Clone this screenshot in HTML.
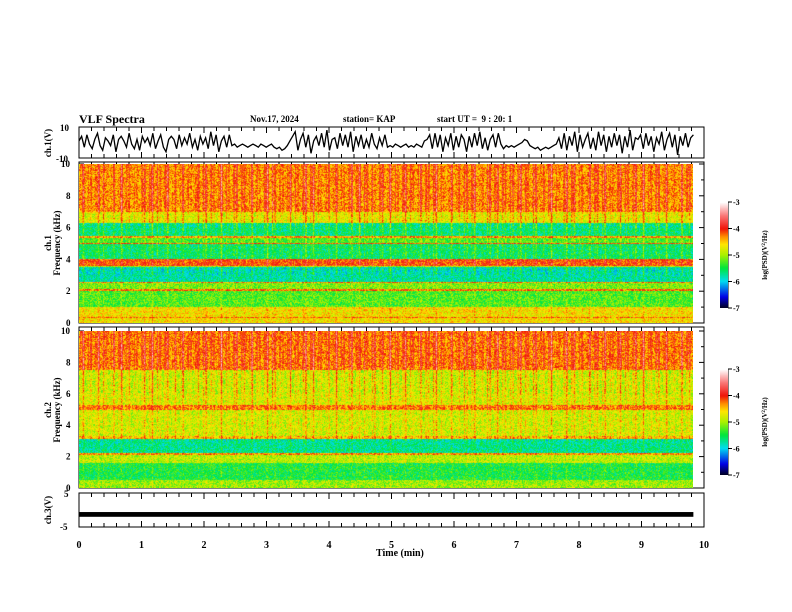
<!DOCTYPE html>
<html><head><meta charset="utf-8"><style>
html,body{margin:0;padding:0;background:#fff;}
#wrap{position:relative;width:792px;height:612px;overflow:hidden;font-family:"Liberation Serif",serif;}
.t{position:absolute;font-weight:bold;font-size:9px;color:#000;white-space:nowrap;}
canvas{position:absolute;}
</style></head><body>
<div id="wrap">
<div class="t" style="left:79px;top:112px;font-size:12px">VLF Spectra</div>
<div class="t" style="left:250px;top:114px">Nov.17, 2024</div>
<div class="t" style="left:343px;top:114px">station= KAP</div>
<div class="t" style="left:437px;top:114px">start UT =&nbsp;&nbsp;9 : 20: 1</div>
<div class="t" style="left:376px;top:548px;font-size:10px">Time (min)</div>
<svg id="svg" width="792" height="612" style="position:absolute;left:0;top:0"></svg>
<canvas id="c1" width="614" height="159" style="left:79px;top:164px"></canvas>
<canvas id="c2" width="614" height="157" style="left:79px;top:331px"></canvas>
<canvas id="cb1" width="8" height="106" style="left:720px;top:202px"></canvas>
<canvas id="cb2" width="8" height="106" style="left:720px;top:369px"></canvas>
</div>
<script>
// ---------- data ----------
const ch1Wave = [1,4,-3,5,-1,-4,2,6,-2,-5,3,1,-2,5,-6,2,4,1,-3,6,-1,-4,2,-5,4,0,3,-2,6,-4,1,5,-3,-6,2,4,2,-4,5,-2,3,-1,6,-3,2,-5,4,-1,3,-4,7,-2,5,-6,1,4,-3,5,-2,-1,-3,-2,-1,-2,-3,-2,-1,-2,-3,-1,-2,-3,-2,-1,-3,-4,-3,-5,-4,-2,1,4,7,-5,2,6,-3,5,-7,1,4,-2,6,-3,8,-5,2,3,-4,6,-2,5,-3,7,-6,4,-2,5,-4,2,-3,6,-1,-4,3,-2,5,-3,-2,-3,-1,-2,-3,-2,-1,-3,-2,-3,-1,-2,-3,1,2,5,-4,6,-3,5,-6,3,-2,6,-5,4,-3,5,2,-6,4,-3,6,-2,7,-4,3,-5,2,5,-3,6,-1,-4,-2,-3,-2,-3,-2,-1,0,2,1,-2,-3,-4,-3,-5,-4,-3,-4,-3,-2,-1,3,-4,6,-5,4,-2,7,-6,5,-3,2,6,-4,3,-5,7,-2,5,-6,4,-3,6,-2,5,-7,4,-3,8,-5,3,2,5,-4,6,-2,4,-6,3,-1,7,-5,2,6,-3,5,-8,4,-2,6,-3,3,5];
const ch3Min = -2.0, ch3Max = -0.6;
const tEnd = 9.83;
// band profiles: [fLow kHz, fHigh kHz, log PSD]
const spec1Bands = [[7,10,-4.15],[6.3,7,-4.6],[5.5,6.3,-5.55],[5.35,5.5,-4.3],[5.0,5.35,-5.2],[4.95,5.05,-4.1],[4.0,4.95,-5.5],[3.6,4.0,-4.05],[3.5,3.6,-4.9],[2.6,3.5,-5.75],[2.5,2.6,-4.3],[2.1,2.5,-5.1],[2.0,2.15,-4.2],[1.0,2.0,-5.25],[0,1.0,-4.6],[0.3,0.4,-4.2]];
const spec2Bands = [[7.5,10,-4.1],[5.3,7.5,-4.7],[5.0,5.3,-4.2],[3.3,5.0,-4.75],[3.1,3.3,-4.4],[2.2,3.1,-5.7],[2.1,2.2,-4.3],[1.6,2.1,-4.9],[0.5,1.6,-5.45],[0,0.5,-5.0]];
const burst1 = [0.8,0.3,0.9,0.2,0.6,1,0.4,0.2,0.7,0.9,0.3,1,0.5,0.8,0.2,0.6,0.9,0.4,1,0.3,0.7,0.5,0.9,0.2,1,0.6,0.3,0.8,0.4,1,0.9,0.2,0.6,0.8,0.3,0.9,1,0.5,0.2,0.7,1,0.4,0.9,0.3,0.8,0.6,1,0.2,0.9,0.5,0.7,1,0.3,0.8,0.9,0.4,0.6,1,0.3,0.8,0.5,0.9,0.2,1,0.7,0.4,0.9,0.6,1,0.3,0.8,0.5,0.9,1,0.4,0.7,0.9,0.3,1,0.6];
const burst2 = [0.9,0.5,1,0.4,0.8,1,0.6,0.3,0.9,1,0.5,0.8,0.7,1,0.4,0.6,0.9,0.5,1,0.3,0.8,0.6,1,0.4,0.9,0.7,0.3,0.8,0.5,1,0.9,0.4,0.7,1,0.5,0.9,0.6,0.3,0.8,0.6,1,0.5,0.9,0.4,0.8,0.6,1,0.3,0.9,0.5,0.7,0.9,0.4,0.8,1,0.5,0.6,0.9,0.4,0.8,0.5,0.9,0.3,1,0.7,0.5,0.9,0.6,1,0.4,0.8,0.5,0.9,1,0.5,0.7,0.9,0.4,1,0.6];
const cbTicks = [-3,-4,-5,-6,-7];
const xTicks = [0,1,2,3,4,5,6,7,8,9,10];
const freqTicks = [0,2,4,6,8,10];

// ---------- scales ----------
const X0=79, X1=704;
const xs = t => X0 + (X1-X0)*t/10;
const panels = {
  top:{y0:127,y1:158,min:-10,max:10},
  s1:{y0:162,y1:323,min:0,max:10,top:164},
  s2:{y0:327,y1:488,min:0,max:10,top:331},
  bot:{y0:493,y1:527,min:-5,max:5}
};
const ys=(p,v)=>p.y1-(v-p.min)/(p.max-p.min)*(p.y1-p.y0);

function cmap(v){
  const stops=[[-7,[0,0,40]],[-6.6,[0,0,230]],[-6,[0,220,240]],[-5.5,[0,230,60]],[-5,[170,240,0]],[-4.6,[255,230,0]],[-4.3,[255,140,0]],[-4,[240,20,10]],[-3.5,[250,120,120]],[-3,[255,255,255]]];
  if(v<=-7)return stops[0][1]; if(v>=-3)return stops[stops.length-1][1];
  for(let i=0;i<stops.length-1;i++){const a=stops[i],b=stops[i+1];
    if(v>=a[0]&&v<=b[0]){const f=(v-a[0])/(b[0]-a[0]);return a[1].map((c,k)=>Math.round(c+(b[1][k]-c)*f));}}
}
function hash(i,j){let h=(i*374761393+j*668265263)>>>0;h=((h^(h>>>13))*1274126177)>>>0;return ((h^(h>>>16))&1023)/1023;}

function drawSpec(id,bands,burst){
  const cv=document.getElementById(id),ctx=cv.getContext('2d');
  const W=cv.width,H=cv.height,img=ctx.createImageData(W,H);
  const bw=W/burst.length;
  for(let y=0;y<H;y++){
    const f=10*(1-(y+0.5)/H); let base=-5;
    for(const b of bands){ if(f>=b[0]&&f<b[1]) base=b[2]; }
    const w = f>6 ? 1.2 : (f>3?0.75:0.3);
    for(let x=0;x<W;x++){
      const bi=Math.min(burst.length-1,Math.floor(x/bw));
      const pos=(x-bi*bw)/bw;
      const b2=burst[(bi*7+3)%burst.length];
      const s1=Math.max(0,1-Math.abs(pos-0.5)*5);
      const s2=Math.max(0,1-Math.abs(pos-0.15)*7);
      const streak=burst[bi]*s1+0.7*b2*s2;
      let v=base + w*(streak*0.8-0.2) + (hash(x,y)-0.5)*0.7;
      const c=cmap(v), k=(y*W+x)*4;
      img.data[k]=c[0];img.data[k+1]=c[1];img.data[k+2]=c[2];img.data[k+3]=255;
    }
  }
  ctx.putImageData(img,0,0);
}
drawSpec('c1',spec1Bands,burst1);
drawSpec('c2',spec2Bands,burst2);
function drawCb(id){const cv=document.getElementById(id),ctx=cv.getContext('2d');
  for(let y=0;y<cv.height;y++){const c=cmap(-3-4*y/(cv.height-1));ctx.fillStyle=`rgb(${c})`;ctx.fillRect(0,y,cv.width,1);}}
drawCb('cb1');drawCb('cb2');

// ---------- svg ----------
const svg=document.getElementById('svg'),NS='http://www.w3.org/2000/svg';
function el(tag,attrs,parent){const e=document.createElementNS(NS,tag);for(const k in attrs)e.setAttribute(k,attrs[k]);(parent||svg).appendChild(e);return e;}
function txt(s,x,y,opts){const e=el('text',Object.assign({x:x,y:y,'font-family':'Liberation Serif, serif','font-size':9,'font-weight':'bold'},opts||{}));e.textContent=s;return e;}

let pts=ch1Wave.map((v,i)=>`${xs(i/(ch1Wave.length-1)*tEnd).toFixed(1)},${ys(panels.top,v).toFixed(1)}`).join(' ');
const wl=el('polyline',{points:pts,fill:'none',stroke:'#000','stroke-width':1.3});


const r3=el('rect',{x:X0,y:ys(panels.bot,ch3Max),width:xs(tEnd)-X0,height:ys(panels.bot,ch3Min)-ys(panels.bot,ch3Max),fill:'#000'});



for(const key in panels){const p=panels[key];
  const fr=el('rect',{x:X0,y:p.y0,width:X1-X0,height:p.y1-p.y0,fill:'none',stroke:'#000','stroke-width':1});
  
  
  for(let i=0;i<=50;i++){const x=xs(i/5);const L=(i%5==0)?6:4;
    el('line',{x1:x,y1:p.y0,x2:x,y2:p.y0+L,stroke:'#000','stroke-width':1});
    el('line',{x1:x,y1:p.y1,x2:x,y2:p.y1-L,stroke:'#000','stroke-width':1});}
}
txt('10',60,131);txt('-10',56,162);
txt('5',64,497);txt('-5',60,530);
for(const p of [panels.s1,panels.s2]){
  for(const f of freqTicks){const y=p.y1-(f/10)*(p.y1-p.top);txt(String(f),f==10?61:66,y+3);
    el('line',{x1:X1,y1:y,x2:X1-5,y2:y,stroke:'#000'});el('line',{x1:X0,y1:y,x2:X0+5,y2:y,stroke:'#000'});
    if(f<10){const ym=y-(p.y1-p.top)/10;el('line',{x1:X1,y1:ym,x2:X1-3,y2:ym,stroke:'#000'});el('line',{x1:X0,y1:ym,x2:X0+3,y2:ym,stroke:'#000'});}}
}
for(const t of xTicks){const lb=txt(String(t),xs(t),548,{'text-anchor':'middle','font-size':10});
  
  }
function rot(s,x,y,name){const e=txt(s,x,y,{'text-anchor':'middle',transform:`rotate(-90 ${x} ${y})`});
  
  return e;}
rot('ch.1(V)',51,143,'ch1-y-title');
rot('ch.1',51,243,'ch1-spec-y-title');rot('Frequency (kHz)',60,243,'ch1-freq-y-title');
rot('ch.2',51,410,'ch2-spec-y-title');rot('Frequency (kHz)',60,410,'ch2-freq-y-title');
rot('ch.3(V)',51,510,'ch3-y-title');
for(const [top,name] of [[202,'colorbar-ch1'],[369,'colorbar-ch2']]){
  el('line',{x1:728,y1:top,x2:728,y2:top+106,stroke:'#000'});
  cbTicks.forEach((v,i)=>{const y=top+(-3-v)/4*106;el('line',{x1:728,y1:y,x2:732,y2:y,stroke:'#000'});txt(String(v),733,y+3,{'font-size':8});});
  const e=el('text',{x:767,y:top+53,'font-family':'Liberation Serif, serif','font-size':7,'font-weight':'bold','text-anchor':'middle',transform:`rotate(-90 767 ${top+53})`});
  e.innerHTML='log(PSD)(V<tspan dy="-2" font-size="5">2</tspan><tspan dy="2">/Hz)</tspan>';
  
  
}
</script>
</body></html>
